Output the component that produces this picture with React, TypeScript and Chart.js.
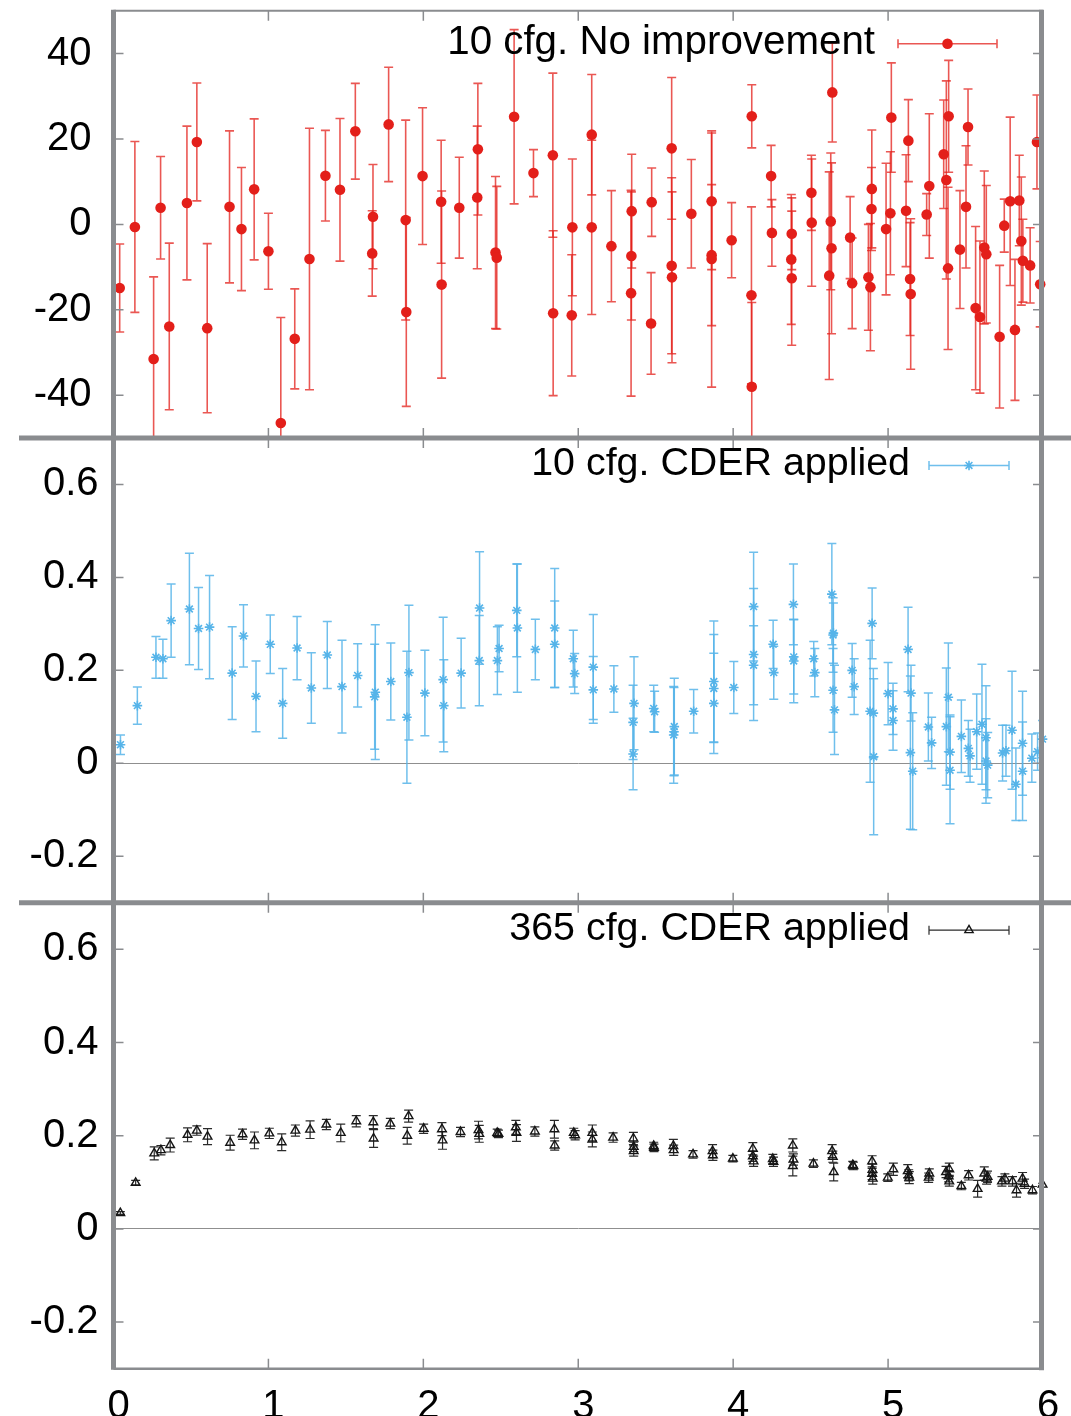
import React, { useEffect, useRef } from 'react';
import { Chart, registerables } from 'chart.js';

Chart.register(...registerables);

// ---------------- data ----------------
// Panel 1: 10 cfg. No improvement
const RED_X = [0.04, 0.138, 0.259, 0.304, 0.36, 0.474, 0.538, 0.605, 0.749, 0.826, 0.908, 1.0, 1.08, 1.17, 1.265, 1.368, 1.462, 1.561, 1.675, 1.67, 1.776, 1.886, 1.89, 1.995, 2.115, 2.118, 2.232, 2.352, 2.348, 2.466, 2.474, 2.586, 2.711, 2.836, 2.838, 2.962, 2.958, 3.087, 3.087, 3.214, 3.345, 3.343, 3.341, 3.474, 3.47, 3.603, 3.603, 3.605, 3.73, 3.861, 3.861, 3.861, 3.99, 4.12, 4.118, 4.12, 4.245, 4.25, 4.378, 4.375, 4.378, 4.505, 4.507, 4.63, 4.635, 4.62, 4.64, 4.755, 4.768, 4.895, 4.893, 4.873, 4.886, 4.987, 5.015, 5.021, 5.131, 5.116, 5.142, 5.146, 5.266, 5.249, 5.359, 5.376, 5.391, 5.387, 5.516, 5.503, 5.464, 5.565, 5.593, 5.621, 5.634, 5.72, 5.75, 5.788, 5.847, 5.819, 5.86, 5.87, 5.917, 5.961, 5.982];
const RED_Y = [-14.9, -0.6, -31.5, 3.9, -23.9, 5.0, 19.3, -24.3, 4.1, -1.1, 8.2, -6.3, -46.5, -26.8, -8.1, 11.4, 8.1, 21.8, 1.8, -6.8, 23.4, 1.0, -20.5, 11.3, 5.3, -14.1, 3.9, 17.6, 6.3, -6.6, -7.8, 25.2, 12.0, 16.2, -20.8, -0.7, -21.3, 21.0, -0.7, -5.1, 3.1, -7.4, -16.1, 5.2, -23.2, 17.8, -9.7, -12.4, 2.5, 5.4, -7.2, -8.1, -3.7, 25.3, -16.6, -38.0, 11.3, -2.0, -2.2, -8.2, -12.6, 7.4, 0.4, 0.7, -5.6, -12.0, 30.9, -3.1, -13.8, 8.3, 3.6, -12.4, -14.7, -1.1, 2.6, 25.0, 19.6, 3.2, -12.8, -16.3, 9.0, 2.3, 16.4, 10.4, 25.3, -10.3, 22.8, 4.1, -5.9, -19.6, -21.7, -5.4, -7.0, -26.3, -0.3, 5.4, 5.6, -24.7, -3.9, -8.5, -9.6, 19.3, -14.0];
const RED_ERR = [10.3, 20, 19.2, 12, 19.5, 18, 13.8, 19.8, 17.8, 14.4, 16.5, 8.9, 24.7, 11.7, 30.6, 10.6, 16.7, 11.2, 12.2, 10, 13.4, 23.4, 22.1, 16, 14.4, 21.9, 11.8, 15.4, 16.7, 17.8, 16.7, 20.4, 5.5, 19.2, 19.3, 16, 14.2, 14.1, 20.4, 13, 13.3, 15, 24.1, 8, 11.9, 16.6, 20.6, 20, 12.7, 16, 16.5, 30, 8.8, 7.4, 20.7, 19.7, 7.2, 7.8, 8.4, 15.2, 15.7, 8.8, 14.9, 16, 20, 24.3, 11.6, 9.6, 10.6, 13.8, 9.7, 12.4, 14.9, 15.4, 14.4, 12.8, 9.6, 13.1, 13.2, 17.6, 16.9, 4.9, 12.7, 23.2, 13.1, 19, 8.9, 14.3, 13.8, 19.1, 17.8, 17.9, 16.1, 16.7, 6.2, 19.7, 10.6, 16.5, 15, 9.7, 8.8, 11, 10];

// Panel 2: 10 cfg. CDER applied
const BLUE_X = [0.045, 0.154, 0.274, 0.319, 0.372, 0.49, 0.549, 0.62, 0.766, 0.839, 0.92, 1.012, 1.092, 1.185, 1.277, 1.38, 1.475, 1.576, 1.69, 1.686, 1.79, 1.907, 1.894, 2.01, 2.128, 2.132, 2.244, 2.363, 2.361, 2.478, 2.489, 2.603, 2.607, 2.723, 2.848, 2.848, 2.968, 2.977, 3.097, 3.097, 3.23, 3.36, 3.354, 3.354, 3.487, 3.493, 3.62, 3.618, 3.616, 3.745, 3.875, 3.875, 3.875, 4.004, 4.132, 4.132, 4.132, 4.258, 4.262, 4.389, 4.391, 4.391, 4.52, 4.527, 4.637, 4.647, 4.645, 4.645, 4.654, 4.768, 4.781, 4.897, 4.884, 4.905, 4.907, 5.0, 5.032, 5.032, 5.129, 5.148, 5.144, 5.159, 5.26, 5.281, 5.376, 5.389, 5.4, 5.4, 5.473, 5.518, 5.529, 5.572, 5.606, 5.632, 5.632, 5.643, 5.739, 5.761, 5.8, 5.825, 5.868, 5.868, 5.928, 5.965, 5.997];
const BLUE_Y = [0.04, 0.124, 0.228, 0.225, 0.307, 0.332, 0.29, 0.293, 0.194, 0.274, 0.144, 0.256, 0.129, 0.248, 0.162, 0.233, 0.165, 0.189, 0.153, 0.143, 0.176, 0.195, 0.099, 0.151, 0.18, 0.124, 0.194, 0.334, 0.221, 0.221, 0.247, 0.329, 0.291, 0.245, 0.291, 0.256, 0.225, 0.193, 0.207, 0.158, 0.16, 0.129, 0.088, 0.02, 0.118, 0.111, 0.079, 0.068, 0.061, 0.112, 0.176, 0.161, 0.129, 0.163, 0.337, 0.234, 0.211, 0.256, 0.195, 0.342, 0.229, 0.22, 0.225, 0.195, 0.364, 0.28, 0.276, 0.157, 0.115, 0.2, 0.165, 0.301, 0.112, 0.108, 0.014, 0.15, 0.117, 0.092, 0.245, 0.151, 0.023, -0.017, 0.078, 0.044, 0.079, 0.142, 0.024, -0.015, 0.058, 0.032, 0.016, 0.068, 0.084, 0.055, 0.005, -0.004, 0.022, 0.027, 0.071, -0.045, 0.043, -0.017, 0.011, 0.025, 0.052];
const BLUE_ERR = [0.021, 0.04, 0.045, 0.042, 0.079, 0.12, 0.088, 0.111, 0.1, 0.067, 0.076, 0.063, 0.075, 0.068, 0.076, 0.072, 0.1, 0.068, 0.145, 0.113, 0.083, 0.145, 0.142, 0.092, 0.134, 0.099, 0.075, 0.121, 0.097, 0.073, 0.05, 0.1, 0.138, 0.065, 0.128, 0.093, 0.061, 0.043, 0.113, 0.072, 0.05, 0.1, 0.08, 0.077, 0.05, 0.044, 0.104, 0.095, 0.104, 0.047, 0.13, 0.116, 0.108, 0.056, 0.117, 0.142, 0.085, 0.052, 0.057, 0.087, 0.08, 0.09, 0.037, 0.052, 0.109, 0.065, 0.08, 0.09, 0.096, 0.058, 0.06, 0.076, 0.153, 0.096, 0.168, 0.067, 0.055, 0.064, 0.091, 0.06, 0.165, 0.126, 0.073, 0.055, 0.126, 0.117, 0.08, 0.115, 0.078, 0.06, 0.057, 0.081, 0.129, 0.112, 0.091, 0.07, 0.06, 0.055, 0.127, 0.078, 0.112, 0.106, 0.052, 0.04, 0.04];

// Panel 3: 365 cfg. CDER applied
const BLACK_X = [0.044, 0.143, 0.263, 0.306, 0.366, 0.478, 0.538, 0.607, 0.753, 0.833, 0.91, 1.006, 1.086, 1.174, 1.269, 1.374, 1.467, 1.567, 1.677, 1.679, 1.787, 1.905, 1.896, 2.002, 2.12, 2.124, 2.24, 2.356, 2.361, 2.477, 2.485, 2.597, 2.601, 2.72, 2.846, 2.848, 2.971, 2.98, 3.091, 3.091, 3.225, 3.356, 3.358, 3.358, 3.487, 3.489, 3.614, 3.616, 3.741, 3.867, 3.869, 3.998, 4.127, 4.127, 4.132, 4.256, 4.26, 4.385, 4.389, 4.385, 4.518, 4.639, 4.643, 4.649, 4.772, 4.776, 4.897, 4.899, 4.897, 4.901, 4.998, 5.034, 5.127, 5.133, 5.137, 5.266, 5.262, 5.395, 5.374, 5.391, 5.395, 5.473, 5.52, 5.578, 5.621, 5.636, 5.642, 5.735, 5.754, 5.803, 5.829, 5.868, 5.881, 5.932, 5.997];
const BLACK_Y = [0.034, 0.099, 0.162, 0.169, 0.18, 0.202, 0.211, 0.198, 0.185, 0.203, 0.19, 0.205, 0.186, 0.211, 0.213, 0.224, 0.206, 0.231, 0.229, 0.194, 0.226, 0.242, 0.2, 0.215, 0.214, 0.19, 0.208, 0.212, 0.204, 0.206, 0.204, 0.218, 0.206, 0.209, 0.214, 0.179, 0.206, 0.201, 0.206, 0.192, 0.196, 0.194, 0.176, 0.167, 0.178, 0.174, 0.178, 0.169, 0.16, 0.167, 0.158, 0.151, 0.172, 0.156, 0.145, 0.15, 0.144, 0.179, 0.149, 0.135, 0.14, 0.167, 0.155, 0.122, 0.137, 0.135, 0.145, 0.127, 0.118, 0.108, 0.11, 0.128, 0.124, 0.115, 0.11, 0.119, 0.11, 0.128, 0.122, 0.113, 0.102, 0.092, 0.115, 0.086, 0.119, 0.108, 0.112, 0.102, 0.108, 0.102, 0.083, 0.108, 0.097, 0.083, 0.095];
const BLACK_ERR = [0.003, 0.005, 0.014, 0.01, 0.015, 0.015, 0.01, 0.017, 0.016, 0.011, 0.018, 0.011, 0.018, 0.012, 0.019, 0.011, 0.019, 0.012, 0.014, 0.019, 0.011, 0.013, 0.018, 0.01, 0.014, 0.019, 0.01, 0.019, 0.018, 0.008, 0.008, 0.015, 0.018, 0.01, 0.019, 0.01, 0.01, 0.01, 0.017, 0.016, 0.01, 0.013, 0.01, 0.011, 0.008, 0.008, 0.014, 0.011, 0.008, 0.014, 0.011, 0.007, 0.013, 0.011, 0.011, 0.01, 0.01, 0.014, 0.012, 0.021, 0.008, 0.014, 0.012, 0.019, 0.008, 0.008, 0.012, 0.012, 0.012, 0.012, 0.008, 0.013, 0.014, 0.012, 0.013, 0.01, 0.01, 0.013, 0.012, 0.012, 0.01, 0.008, 0.01, 0.018, 0.014, 0.012, 0.012, 0.01, 0.01, 0.01, 0.015, 0.013, 0.01, 0.008, 0.003];

const X_TICKS = [0, 1, 2, 3, 4, 5, 6];
const X_TICK_LABELS = ['0', '1', '2', '3', '4', '5', '6'];
const Y1_TICKS = [-40, -20, 0, 20, 40];
const Y1_TICK_LABELS = ['-40', '-20', '0', '20', '40'];
const Y23_TICKS = [-0.2, 0, 0.2, 0.4, 0.6];
const Y23_TICK_LABELS = ['-0.2', '0', '0.2', '0.4', '0.6'];
const LEGEND_LABELS = ['10 cfg. No improvement', '10 cfg. CDER applied', '365 cfg. CDER applied'];

// ---------------- styles ----------------
const FONT = "'Liberation Sans', Arial, Helvetica, sans-serif";
const FRAME = '#8a8c8f';
const RED = '#e31f1a';
const BLUE = '#56b4e9';
const BLACK = '#151515';

const PANEL_STYLE = [
  { axis: 'y1', legendDy: 33, textRight: 875, sampleL: 898, sampleR: 997, fontSize: 40.3 },
  { axis: 'y2', legendDy: 27.5, textRight: 910, sampleL: 929, sampleR: 1009, fontSize: 39.4 },
  { axis: 'y3', legendDy: 27.5, textRight: 910, sampleL: 929, sampleR: 1009, fontSize: 39.4 },
];

const SERIES_STYLE = [
  { bar: 'rgba(227,31,26,0.75)', barWidth: 1.6, cap: 4.5, shape: 'circle', color: RED },
  { bar: 'rgba(86,180,233,0.85)', barWidth: 1.5, cap: 4.5, shape: 'star', color: BLUE },
  { bar: 'rgba(20,20,20,0.9)', barWidth: 1.2, cap: 4.5, shape: 'triangle', color: BLACK },
];

function drawMarker(ctx: CanvasRenderingContext2D, shape: string, x: number, y: number, color: string) {
  ctx.save();
  if (shape === 'circle') {
    ctx.fillStyle = color;
    ctx.beginPath();
    ctx.arc(x, y, 5.3, 0, Math.PI * 2);
    ctx.fill();
  } else if (shape === 'star') {
    ctx.strokeStyle = color;
    ctx.lineWidth = 1.6;
    const r = 4.8;
    ctx.beginPath();
    for (let k = 0; k < 4; k++) {
      const a = (k * Math.PI) / 4;
      ctx.moveTo(x - Math.cos(a) * r, y - Math.sin(a) * r);
      ctx.lineTo(x + Math.cos(a) * r, y + Math.sin(a) * r);
    }
    ctx.stroke();
  } else {
    ctx.strokeStyle = color;
    ctx.lineWidth = 1.4;
    const r = 4.8;
    ctx.beginPath();
    ctx.moveTo(x, y - r);
    ctx.lineTo(x + r * 0.866, y + r * 0.5);
    ctx.lineTo(x - r * 0.866, y + r * 0.5);
    ctx.closePath();
    ctx.stroke();
  }
  ctx.restore();
}

const errorBarPlugin = {
  id: 'errorBars',
  beforeDatasetsDraw(chart: any) {
    const ctx = chart.ctx as CanvasRenderingContext2D;
    const xs = chart.scales.x;
    const area = chart.chartArea;
    chart.data.datasets.forEach((ds: any, di: number) => {
      const ys = chart.scales[ds.yAxisID];
      const st = SERIES_STYLE[di];
      ctx.save();
      ctx.beginPath();
      ctx.rect(area.left, ys.top, area.right - area.left, ys.bottom - ys.top);
      ctx.clip();
      ctx.strokeStyle = st.bar;
      ctx.lineWidth = st.barWidth;
      ds.data.forEach((p: any, i: number) => {
        const e = ds.errors[i];
        const px = xs.getPixelForValue(p.x);
        const t = ys.getPixelForValue(p.y + e);
        const b = ys.getPixelForValue(p.y - e);
        ctx.beginPath();
        ctx.moveTo(px, t);
        ctx.lineTo(px, b);
        ctx.moveTo(px - st.cap, t);
        ctx.lineTo(px + st.cap, t);
        ctx.moveTo(px - st.cap, b);
        ctx.lineTo(px + st.cap, b);
        ctx.stroke();
      });
      ctx.restore();
    });
  },
};

const framePlugin = {
  id: 'gnuFrame',
  afterDraw(chart: any) {
    const ctx = chart.ctx as CanvasRenderingContext2D;
    const area = chart.chartArea;
    const xs = chart.scales.x;
    const W = chart.width;
    const TL = 10;
    ctx.save();
    // tick marks
    ctx.strokeStyle = FRAME;
    ctx.lineWidth = 1.5;
    PANEL_STYLE.forEach((p, pi) => {
      const ys = chart.scales[p.axis];
      const yt = pi === 0 ? Y1_TICKS : Y23_TICKS;
      ctx.beginPath();
      X_TICKS.forEach((v) => {
        const px = xs.getPixelForValue(v);
        ctx.moveTo(px, ys.top);
        ctx.lineTo(px, ys.top + TL);
        ctx.moveTo(px, ys.bottom);
        ctx.lineTo(px, ys.bottom - TL);
      });
      yt.forEach((v) => {
        const py = ys.getPixelForValue(v);
        ctx.moveTo(area.left, py);
        ctx.lineTo(area.left + TL, py);
        ctx.moveTo(area.right, py);
        ctx.lineTo(area.right - TL, py);
      });
      ctx.stroke();
    });
    // frame lines
    ctx.strokeStyle = FRAME;
    ctx.lineWidth = 2;
    ctx.beginPath();
    ctx.moveTo(area.left, area.top);
    ctx.lineTo(area.right, area.top);
    ctx.stroke();
    ctx.lineWidth = 2.5;
    ctx.beginPath();
    ctx.moveTo(area.left, area.bottom);
    ctx.lineTo(area.right, area.bottom);
    ctx.stroke();
    ctx.lineWidth = 5;
    ctx.beginPath();
    ctx.moveTo(area.left, area.top - 1);
    ctx.lineTo(area.left, area.bottom + 1);
    ctx.moveTo(area.right - 1.5, area.top - 1);
    ctx.lineTo(area.right - 1.5, area.bottom + 1.5);
    ctx.stroke();
    [chart.scales.y1.bottom, chart.scales.y2.bottom].forEach((y: number) => {
      ctx.beginPath();
      ctx.moveTo(19, y);
      ctx.lineTo(W, y);
      ctx.stroke();
    });
    // legends
    PANEL_STYLE.forEach((p, pi) => {
      const ys = chart.scales[p.axis];
      const ly = ys.top + p.legendDy;
      const st = SERIES_STYLE[pi];
      ctx.fillStyle = '#000';
      ctx.font = `${p.fontSize}px ${FONT}`;
      ctx.textAlign = 'right';
      ctx.textBaseline = 'alphabetic';
      ctx.fillText(LEGEND_LABELS[pi], p.textRight, ly + 10);
      ctx.strokeStyle = st.bar;
      ctx.lineWidth = st.barWidth;
      ctx.beginPath();
      ctx.moveTo(p.sampleL, ly);
      ctx.lineTo(p.sampleR, ly);
      ctx.moveTo(p.sampleL, ly - st.cap);
      ctx.lineTo(p.sampleL, ly + st.cap);
      ctx.moveTo(p.sampleR, ly - st.cap);
      ctx.lineTo(p.sampleR, ly + st.cap);
      ctx.stroke();
      drawMarker(ctx, st.shape, (p.sampleL + p.sampleR) / 2, ly, st.color);
    });
    ctx.restore();
  },
};

function yScale(
  weight: number,
  stackWeight: number,
  min: number,
  max: number,
  ticks: number[],
  labels: string[],
  pad: number,
  zeroLine: boolean
) {
  return {
    type: 'linear',
    position: 'left',
    stack: 'panels',
    stackWeight,
    weight,
    min,
    max,
    border: { display: false },
    grid: {
      display: zeroLine,
      drawTicks: false,
      lineWidth: 1,
      color: (c: any) => (c.tick && c.tick.value === 0 ? '#8f8f8f' : 'rgba(0,0,0,0)'),
    },
    afterBuildTicks: (s: any) => {
      s.ticks = ticks.map((v) => ({ value: v }));
    },
    afterFit: (s: any) => {
      s.width = 113.5;
      s.paddingTop = 0;
      s.paddingBottom = 0;
    },
    ticks: {
      autoSkip: false,
      padding: pad,
      color: '#000',
      font: { family: FONT, size: 40 },
      callback: (v: number) => {
        const i = ticks.findIndex((t) => Math.abs(t - v) < 1e-9);
        return i >= 0 ? labels[i] : '';
      },
    },
  };
}

export default function App() {
  const ref = useRef<HTMLCanvasElement | null>(null);
  useEffect(() => {
    if (!ref.current) return;
    const mk = (xs: number[], ys: number[]) => xs.map((x, i) => ({ x, y: ys[i] }));
    const chart = new Chart(ref.current, {
      type: 'scatter',
      data: {
        datasets: [
          {
            label: LEGEND_LABELS[0],
            data: mk(RED_X, RED_Y),
            errors: RED_ERR,
            yAxisID: 'y1',
            pointStyle: 'circle',
            pointRadius: 5.3,
            backgroundColor: RED,
            borderColor: RED,
            borderWidth: 0,
            clip: false,
          } as any,
          {
            label: LEGEND_LABELS[1],
            data: mk(BLUE_X, BLUE_Y),
            errors: BLUE_ERR,
            yAxisID: 'y2',
            pointStyle: 'star',
            pointRadius: 4.8,
            backgroundColor: BLUE,
            borderColor: BLUE,
            borderWidth: 1.6,
            clip: false,
          } as any,
          {
            label: LEGEND_LABELS[2],
            data: mk(BLACK_X, BLACK_Y),
            errors: BLACK_ERR,
            yAxisID: 'y3',
            pointStyle: 'triangle',
            pointRadius: 5,
            backgroundColor: 'rgba(0,0,0,0)',
            borderColor: BLACK,
            borderWidth: 1.4,
            clip: false,
          } as any,
        ],
      },
      options: {
        animation: false,
        responsive: false,
        devicePixelRatio: 1,
        events: [],
        layout: { padding: { top: 10.8, right: 28, left: 0, bottom: 0 } },
        plugins: { legend: { display: false }, tooltip: { enabled: false } },
        scales: {
          x: {
            type: 'linear',
            position: 'bottom',
            min: 0,
            max: 6,
            border: { display: false },
            grid: { display: false },
            afterBuildTicks: (s: any) => {
              s.ticks = X_TICKS.map((v) => ({ value: v }));
            },
            afterFit: (s: any) => {
              s.height = 47.3;
              s.paddingLeft = 0;
              s.paddingRight = 0;
            },
            ticks: {
              autoSkip: false,
              maxRotation: 0,
              padding: 6,
              labelOffset: 5,
              color: '#000',
              font: { family: FONT, size: 40 },
              callback: (v: number) => {
                const i = X_TICKS.indexOf(v);
                return i >= 0 ? X_TICK_LABELS[i] : '';
              },
            },
          },
          y1: yScale(3, 425.8, -50, 50, Y1_TICKS, Y1_TICK_LABELS, 22, false),
          y2: yScale(2, 463.3, -0.3, 0.7, Y23_TICKS, Y23_TICK_LABELS, 15, true),
          y3: yScale(1, 464.5, -0.3, 0.7, Y23_TICKS, Y23_TICK_LABELS, 15, true),
        } as any,
      },
      plugins: [errorBarPlugin, framePlugin],
    });
    return () => chart.destroy();
  }, []);
  return (
    <div style={{ position: 'fixed', left: 0, top: 0, width: 1071, height: 1416, background: '#fff' }}>
      <canvas ref={ref} width={1071} height={1416} style={{ display: 'block', width: 1071, height: 1416 }} />
    </div>
  );
}
